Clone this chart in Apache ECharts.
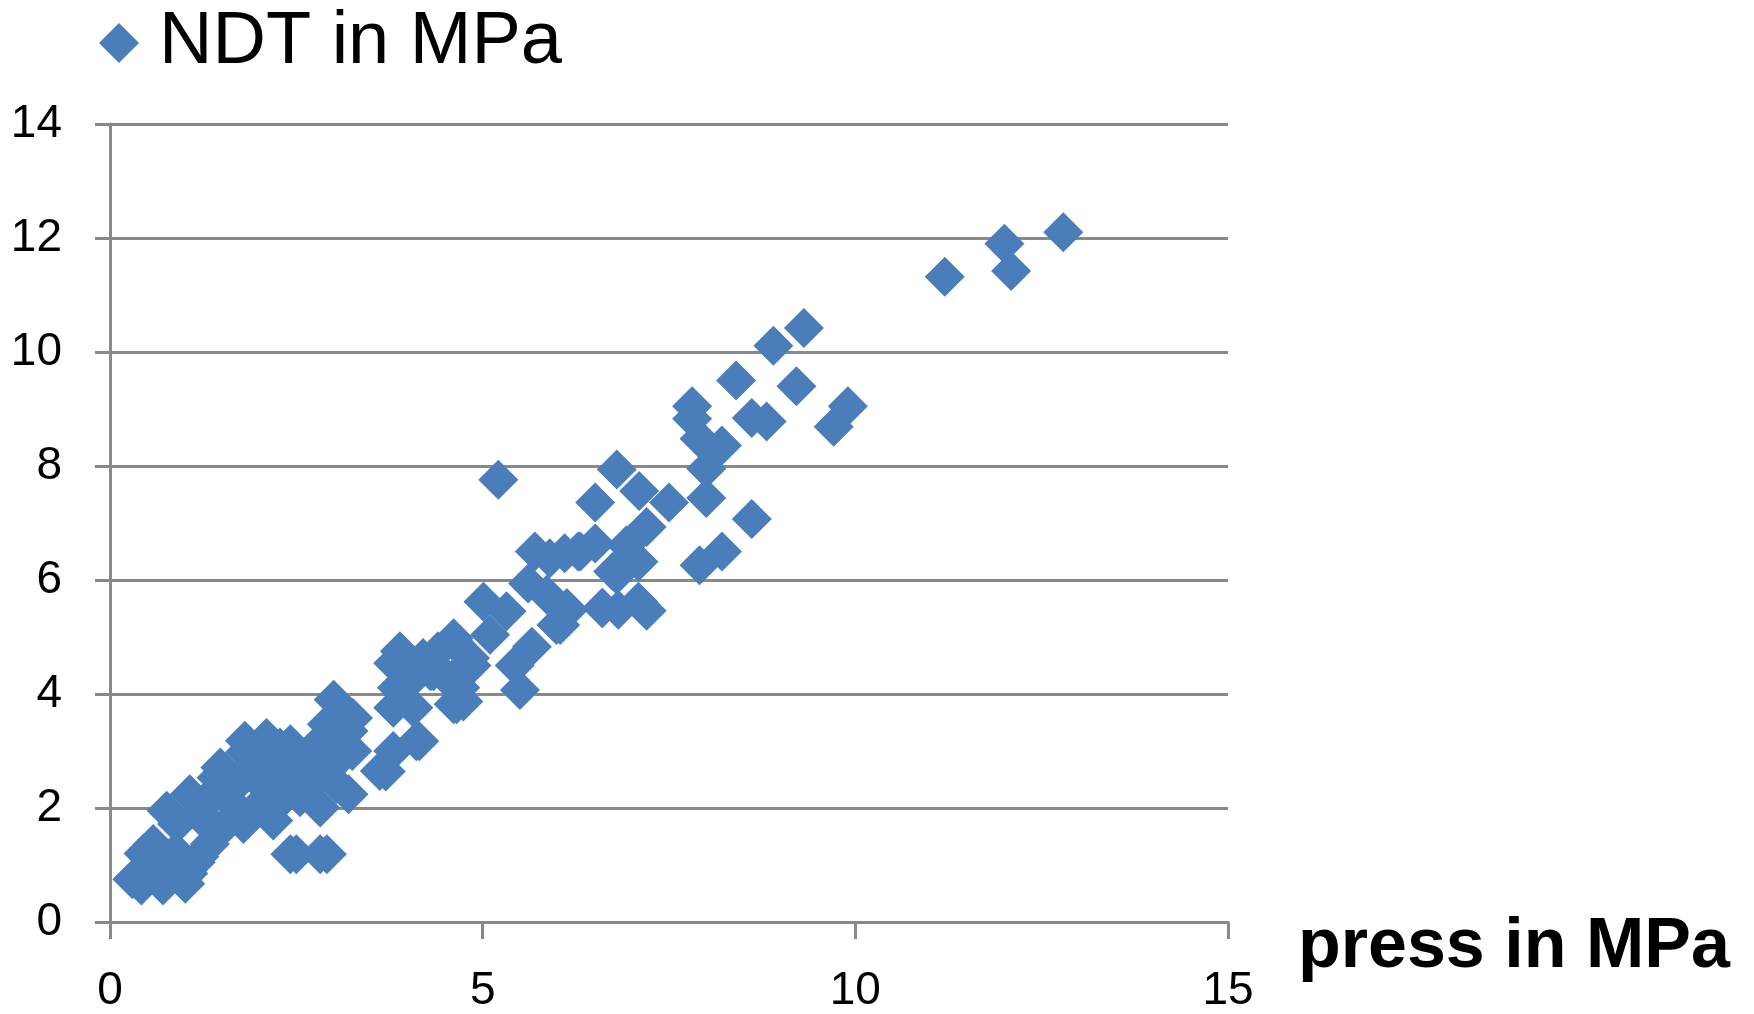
<!DOCTYPE html>
<html>
<head>
<meta charset="utf-8">
<script src="https://cdn.jsdelivr.net/npm/echarts@6/dist/echarts.min.js"></script>
<style>html,body{margin:0;padding:0;background:#fff}#c{width:1754px;height:1014px}</style>
</head>
<body>
<div id="c"></div>
<script>
var seriesName = 'NDT in MPa';
var xAxisName = 'press in MPa';
var xTicks = [0, 5, 10, 15];
var yTicks = [0, 2, 4, 6, 8, 10, 12, 14];
// press (MPa)
var pressValues = [
 0.30,0.42,0.45,0.60,0.65,0.71,0.80,0.90,0.95,1.01,1.05,1.15,1.20,1.21,1.30,1.34,1.43,1.45,1.55,1.60,
 1.65,1.70,1.79,1.81,1.81,1.90,1.95,2.01,2.05,2.10,2.19,2.25,2.28,2.35,2.42,2.42,2.50,2.55,2.55,2.60,
 2.70,2.82,2.82,2.82,2.91,2.91,2.95,3.00,3.04,3.10,3.20,3.20,3.25,
 2.37,2.73,3.00,3.26,2.10,1.48,1.07,0.76,0.58,0.85,1.03,1.34,
 3.62,3.80,3.80,3.85,3.80,3.95,4.07,4.11,4.20,4.30,4.40,4.61,4.70,4.61,4.70,4.74,4.85,
 3.89,4.61,4.83,4.52,4.07,4.34,4.65,3.70,4.15,
 5.01,5.10,5.21,5.32,5.43,5.50,5.61,5.66,5.70,5.86,5.90,5.99,6.10,6.13,6.31,6.51,6.51,6.60,6.75,6.80,
 6.80,6.82,6.93,7.09,7.10,7.20,7.20,7.50,7.81,7.81,7.91,7.91,8.00,8.00,8.21,8.21,8.40,8.61,8.61,8.81,
 8.90,9.21,9.31,9.71,9.90,11.20,12.00,12.09,12.79,
 6.04,6.28,6.61,7.09,6.13
];
// NDT (MPa)
var ndtValues = [
 0.75,0.64,1.20,1.25,0.90,0.64,1.00,1.72,1.15,0.67,0.85,1.05,1.15,1.85,2.10,2.20,2.53,1.60,1.70,2.30,
 2.36,2.00,1.72,3.18,2.98,2.60,2.80,2.07,2.40,2.59,1.78,2.90,3.06,2.20,3.12,1.19,1.19,2.53,2.19,2.80,
 2.40,3.17,2.01,1.19,1.19,3.47,2.70,3.90,2.42,2.90,3.35,2.24,3.00,
 2.42,2.77,3.20,3.58,3.23,2.71,2.24,1.95,1.37,1.19,0.90,1.37,
 2.65,3.00,3.76,4.11,4.54,4.60,3.76,3.17,4.63,4.40,4.75,3.82,4.11,4.92,4.40,3.87,4.50,
 4.75,4.98,4.63,4.28,4.28,4.40,3.82,2.64,3.17,
 5.62,5.04,7.76,5.45,4.50,4.07,5.94,4.83,6.50,5.74,6.38,5.21,6.47,5.45,6.50,6.64,7.36,5.51,6.15,7.94,
 6.09,5.48,6.61,6.32,7.56,6.93,5.46,7.36,9.05,8.83,8.48,6.26,7.95,7.44,8.36,6.50,9.50,8.84,7.07,8.78,
 10.11,9.40,10.42,8.69,9.05,11.32,11.90,11.42,12.10,
 5.21,6.50,5.51,5.62,5.51
];
var points = pressValues.map(function (x, i) { return [x, ndtValues[i]]; });

var chart = echarts.init(document.getElementById('c'));
var gray = '#898989';
var font = 'Liberation Sans';
chart.setOption({
  animation: false,
  backgroundColor: '#ffffff',
  legend: {
    data: [seriesName],
    left: 94,
    top: 1,
    icon: 'diamond',
    itemWidth: 40,
    itemHeight: 40,
    textStyle: { fontSize: 74, lineHeight: 72, color: '#000', fontFamily: font, padding: [0, 0, 0, 15] }
  },
  grid: { left: 110, right: 526, top: 124, bottom: 89, containLabel: false },
  xAxis: {
    type: 'value', min: xTicks[0], max: xTicks[xTicks.length - 1], interval: 5,
    name: xAxisName, nameLocation: 'end', nameGap: 70,
    nameTextStyle: { fontSize: 70, fontWeight: 'bold', color: '#000', fontFamily: font, verticalAlign: 'top', lineHeight: 52 },
    axisLine: { show: true, onZero: false, lineStyle: { color: gray, width: 3 } },
    axisTick: { show: true, length: 17, lineStyle: { color: gray, width: 3 } },
    axisLabel: { fontSize: 46, color: '#000', fontFamily: font, margin: 46 },
    splitLine: { show: false }
  },
  yAxis: {
    type: 'value', min: yTicks[0], max: yTicks[yTicks.length - 1], interval: 2,
    axisLine: { show: true, lineStyle: { color: gray, width: 3 } },
    axisTick: { show: true, length: 15, lineStyle: { color: gray, width: 3 } },
    axisLabel: { fontSize: 46, color: '#000', fontFamily: font, margin: 48 },
    splitLine: { show: true, lineStyle: { color: gray, width: 3 } }
  },
  series: [{
    name: seriesName,
    type: 'scatter',
    symbol: 'diamond',
    symbolSize: 40,
    itemStyle: { color: '#4A7EBB', opacity: 1 },
    data: points
  }]
});
</script>
</body>
</html>
